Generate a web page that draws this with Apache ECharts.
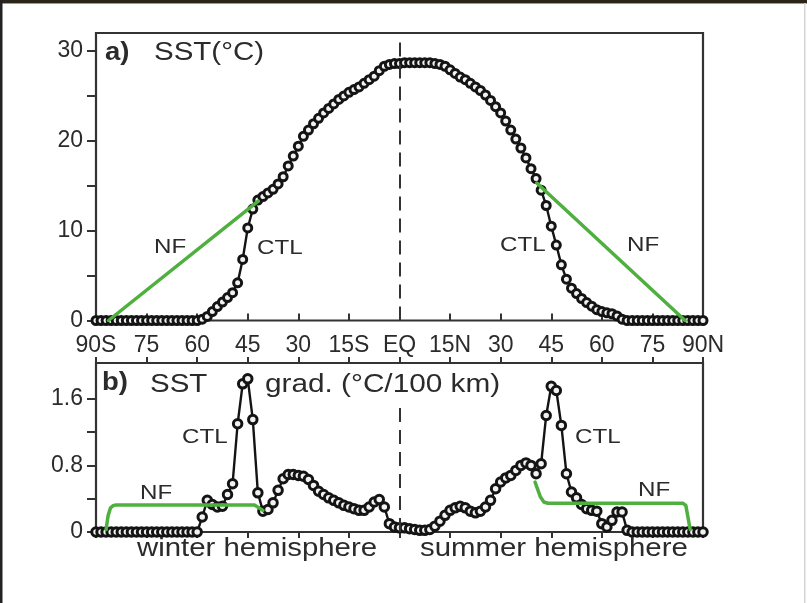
<!DOCTYPE html>
<html>
<head>
<meta charset="utf-8">
<script src="https://cdn.jsdelivr.net/npm/echarts@6/dist/echarts.min.js"></script>
<style>
html,body{margin:0;padding:0;background:#fff;}
#c{width:807px;height:603px;}
</style>
</head>
<body>
<div id="c"></div>
<script>
// Latitudes (deg, negative = south), 1.5 deg spacing
const lats = [
  -90,-88.5,-87,-85.5,-84,-82.5,-81,-79.5,-78,-76.5,
  -75,-73.5,-72,-70.5,-69,-67.5,-66,-64.5,-63,-61.5,
  -60,-58.5,-57,-55.5,-54,-52.5,-51,-49.5,-48,-46.5,
  -45,-43.5,-42,-40.5,-39,-37.5,-36,-34.5,-33,-31.5,
  -30,-28.5,-27,-25.5,-24,-22.5,-21,-19.5,-18,-16.5,
  -15,-13.5,-12,-10.5,-9,-7.5,-6,-4.5,-3,-1.5,
  0,1.5,3,4.5,6,7.5,9,10.5,12,13.5,
  15,16.5,18,19.5,21,22.5,24,25.5,27,28.5,
  30,31.5,33,34.5,36,37.5,39,40.5,42,43.5,
  45,46.5,48,49.5,51,52.5,54,55.5,57,58.5,
  60,61.5,63,64.5,66,67.5,69,70.5,72,73.5,
  75,76.5,78,79.5,81,82.5,84,85.5,87,88.5,
  90
];
// Panel a: CTL SST (deg C)
const ctlSst = [
  0,0,0,0,0,0,0,0,0,0,
  0,0,0,0,0,0,0,0,0,0,
  0,0.15,0.45,1.0,1.55,2.05,2.55,3.1,4.2,6.8,
  10.3,12.4,13.4,13.8,14.2,14.6,15.2,16.0,17.2,18.3,
  19.4,20.5,21.2,21.9,22.5,23.1,23.6,24.1,24.6,25.0,
  25.4,25.7,26.0,26.4,26.8,27.2,27.8,28.3,28.5,28.6,
  28.6,28.7,28.7,28.7,28.7,28.7,28.7,28.6,28.5,28.3,
  27.9,27.5,27.1,26.8,26.4,26.0,25.6,25.1,24.5,23.8,
  23.1,22.2,21.2,20.2,19.2,18.1,16.9,15.8,14.5,12.8,
  10.5,8.4,6.2,4.6,3.6,3.0,2.45,2.0,1.6,1.2,
  1.0,0.85,0.75,0.5,0.15,0,0,0,0,0,
  0,0,0,0,0,0,0,0,0,0,
  0
];
// Panel b: CTL SST gradient (deg C / 100 km)
const ctlGrad = [
  0,0,0,0,0,0,0,0,0,0,
  0,0,0,0,0,0,0,0,0,0,
  0,0.18,0.38,0.33,0.3,0.31,0.45,0.58,1.3,1.78,
  1.84,1.35,0.47,0.25,0.27,0.35,0.5,0.64,0.69,0.69,
  0.68,0.67,0.63,0.56,0.49,0.45,0.41,0.38,0.35,0.32,
  0.3,0.28,0.26,0.26,0.3,0.36,0.39,0.3,0.1,0.06,
  0.05,0.05,0.04,0.03,0.02,0.02,0.03,0.07,0.13,0.2,
  0.26,0.29,0.31,0.29,0.25,0.23,0.25,0.3,0.38,0.52,
  0.6,0.65,0.68,0.74,0.8,0.83,0.8,0.7,0.82,1.4,
  1.75,1.7,1.28,0.7,0.48,0.41,0.33,0.28,0.26,0.25,
  0.1,0.06,0.14,0.24,0.24,0.02,0,0,0,0,
  0,0,0,0,0,0,0,0,0,0,
  0
];
// NF (no-front) profiles
const nfSstSouthLat = [-86.3, -41.9];
const nfSstSouthVal = [0, 13.3];
const nfSstNorthLat = [40.7, 84.7];
const nfSstNorthVal = [15.3, 0];
const nfGradSouthLat = [-87.0, -86.4, -85.7, -84.8, -84.0, -43.0, -40.5];
const nfGradSouthVal = [0.03, 0.2, 0.29, 0.32, 0.325, 0.325, 0.26];
const nfGradNorthLat = [40.2, 41.8, 42.8, 44.0, 84.0, 84.9, 86.2];
const nfGradNorthVal = [0.6, 0.42, 0.36, 0.345, 0.345, 0.32, 0.03];
// Axis ticks / labels
const xTickValues = [-90,-75,-60,-45,-30,-15,0,15,30,45,60,75,90];
const xTickLabels = ['90S','75','60','45','30','15S','EQ','15N','30','45','60','75','90N'];
const sstTicks = [0,5,10,15,20,25,30];
const sstLabels = [0,10,20,30];
const gradTicks = [0,0.4,0.8,1.2,1.6];
const gradLabels = [0,0.8,1.6];

const pair = (xs, ys) => xs.map((x, i) => [x, ys[i]]);

const INK = '#141414';
const FRAME = '#333333';
const TXT = '#2b2b2b';
const GREEN = '#4fb040';
const FONT = '"Liberation Sans", Arial, Helvetica, sans-serif';

const chart = echarts.init(document.getElementById('c'), null, {renderer: 'canvas'});

const xLabelCommon = {
  type: 'value', min: -90, max: 90, interval: 15,
  splitLine: {show: false},
  axisLine: {show: false, onZero: false}
};

function ctlSeries(xi, yi, data, size) {
  return {
    type: 'line', xAxisIndex: xi, yAxisIndex: yi, data: data,
    symbol: 'circle', symbolSize: size, showAllSymbol: true,
    itemStyle: {color: '#f2f2f2', borderColor: INK, borderWidth: 3},
    lineStyle: {color: INK, width: 2.4},
    z: 3, animation: false, silent: true
  };
}
function nfSeries(xi, yi, data) {
  return {
    type: 'line', xAxisIndex: xi, yAxisIndex: yi, data: data,
    symbol: 'none', lineStyle: {color: GREEN, width: 3.5, cap: 'round', join: 'round'},
    z: 4, animation: false, silent: true
  };
}
function eqLine(xi, yi, top) {
  return {
    type: 'line', xAxisIndex: xi, yAxisIndex: yi, data: [],
    symbol: 'none', z: 2, animation: false, silent: true,
    markLine: {
      symbol: 'none', silent: true, animation: false,
      label: {show: false},
      lineStyle: {color: '#333', width: 2, type: [14, 8]},
      data: [[{coord: [0, 0]}, {coord: [0, top]}]]
    }
  };
}

function txt(x, y, text, size, opts) {
  opts = opts || {};
  return {
    type: 'text', x: x, y: y, scaleX: opts.sx || 1.15, z: 10,
    style: {
      text: text, fill: TXT,
      font: (opts.bold ? 'bold ' : '') + size + 'px ' + FONT,
      align: 'left', verticalAlign: 'middle'
    }
  };
}

const option = {
  backgroundColor: '#ffffff',
  animation: false,
  grid: [
    {left: 96, top: 33, width: 607, height: 287.5, show: true, borderColor: FRAME, borderWidth: 2.2, backgroundColor: 'transparent'},
    {left: 96, top: 363, width: 607, height: 169, show: true, borderColor: FRAME, borderWidth: 2.2, backgroundColor: 'transparent'}
  ],
  xAxis: [
    Object.assign({}, xLabelCommon, {
      gridIndex: 0, position: 'bottom',
      axisTick: {show: true, inside: true, length: 7, lineStyle: {color: FRAME, width: 2}},
      axisLabel: {
        show: true, margin: 14, color: TXT, fontSize: 23, fontFamily: FONT,
        formatter: v => xTickLabels[xTickValues.indexOf(v)]
      }
    }),
    Object.assign({}, xLabelCommon, {
      gridIndex: 1, position: 'bottom',
      axisTick: {show: true, inside: false, length: 6, lineStyle: {color: FRAME, width: 2}},
      axisLabel: {show: false}
    }),
    Object.assign({}, xLabelCommon, {
      gridIndex: 1, position: 'top',
      axisTick: {show: true, inside: false, length: 6, lineStyle: {color: FRAME, width: 2}},
      axisLabel: {show: false}
    })
  ],
  yAxis: [
    {
      gridIndex: 0, type: 'value', min: 0, max: 32, position: 'left',
      splitLine: {show: false}, axisLine: {show: false, onZero: false},
      axisTick: {show: true, length: 9, customValues: sstTicks, lineStyle: {color: FRAME, width: 2}},
      axisLabel: {show: true, customValues: sstLabels, margin: 13, color: TXT, fontSize: 23, fontFamily: FONT}
    },
    {
      gridIndex: 1, type: 'value', min: 0, max: 2.03, position: 'left',
      splitLine: {show: false}, axisLine: {show: false, onZero: false},
      axisTick: {show: true, length: 9, customValues: gradTicks, lineStyle: {color: FRAME, width: 2}},
      axisLabel: {
        show: true, customValues: gradLabels, margin: 13, color: TXT, fontSize: 23, fontFamily: FONT,
        formatter: v => (v === 0 ? '0' : v.toFixed(1))
      }
    }
  ],
  series: [
    eqLine(0, 0, 31.2),
    ctlSeries(0, 0, pair(lats, ctlSst), 8),
    nfSeries(0, 0, pair(nfSstSouthLat, nfSstSouthVal)),
    nfSeries(0, 0, pair(nfSstNorthLat, nfSstNorthVal)),
    eqLine(1, 1, 1.57),
    ctlSeries(1, 1, pair(lats, ctlGrad), 8.5),
    nfSeries(1, 1, pair(nfGradSouthLat, nfGradSouthVal)),
    nfSeries(1, 1, pair(nfGradNorthLat, nfGradNorthVal))
  ],
  graphic: [
    {type: 'rect', shape: {x: 0, y: 0, width: 807, height: 3}, style: {fill: '#2b2519'}, z: 20},
    {type: 'rect', shape: {x: 0, y: 3, width: 807, height: 1}, style: {fill: '#b99a55'}, z: 20},
    {type: 'rect', shape: {x: 0, y: 0, width: 2.5, height: 603}, style: {fill: '#222'}, z: 20},
    {type: 'rect', shape: {x: 804, y: 3, width: 1.5, height: 600}, style: {fill: '#d4d4d4'}, z: 20},
    txt(105, 53, 'a)', 25, {bold: true, sx: 1.1}),
    txt(154, 53, 'SST(°C)', 25, {sx: 1.18}),
    txt(154, 247, 'NF', 21),
    txt(257, 248, 'CTL', 21),
    txt(500, 245, 'CTL', 21),
    txt(627, 245, 'NF', 21),
    txt(102, 383, 'b)', 25, {bold: true, sx: 1.1}),
    txt(150, 385, 'SST', 25, {sx: 1.18}),
    txt(265, 385, 'grad. (°C/100 km)', 25, {sx: 1.19}),
    txt(182, 437, 'CTL', 21),
    txt(140, 493, 'NF', 21),
    txt(575, 437, 'CTL', 21),
    txt(638, 490, 'NF', 21),
    txt(137, 549, 'winter hemisphere', 26, {sx: 1.13}),
    txt(420, 549, 'summer hemisphere', 26, {sx: 1.13})
  ]
};
chart.setOption(option);
</script>
</body>
</html>
